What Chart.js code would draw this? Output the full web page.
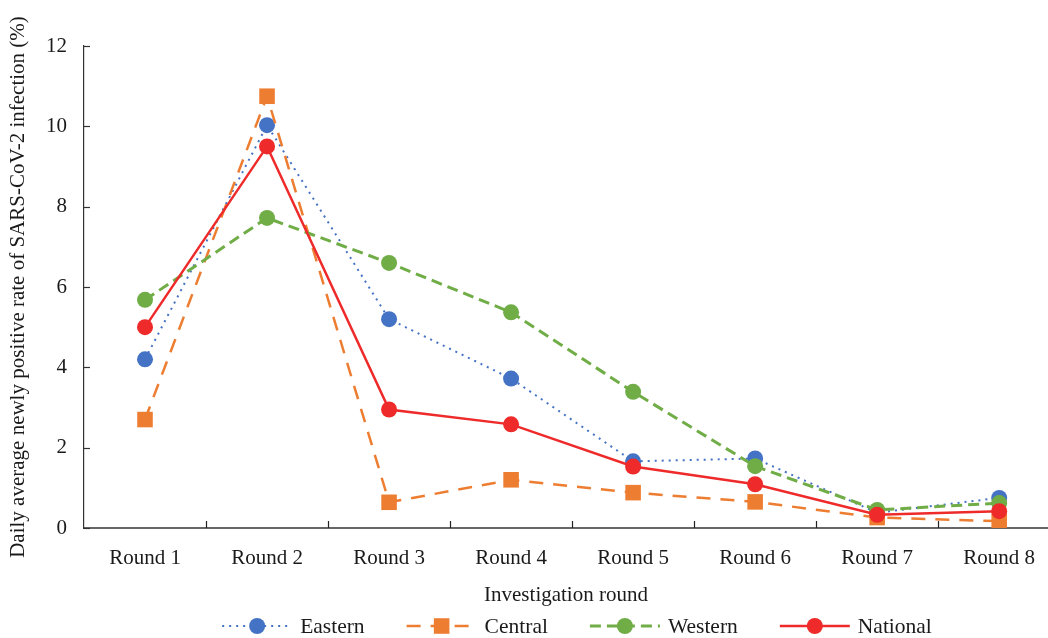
<!DOCTYPE html>
<html>
<head>
<meta charset="utf-8">
<script src="https://cdn.jsdelivr.net/npm/chart.js@4/dist/chart.umd.min.js"></script>
<style>
  html, body { margin: 0; padding: 0; background: #fff; overflow: hidden; }
  #wrap { width: 1048px; height: 638px; position: relative; overflow: hidden; }
  canvas { display: block; }
</style>
</head>
<body>
<div id="wrap"><canvas id="c" width="1048" height="638"></canvas></div>
<script>
const categories = ['Round 1', 'Round 2', 'Round 3', 'Round 4', 'Round 5', 'Round 6', 'Round 7', 'Round 8'];
const eastern  = [4.20, 10.03, 5.20, 3.72, 1.66, 1.73, 0.38, 0.75];
const central  = [2.70, 10.75, 0.64, 1.20, 0.88, 0.65, 0.26, 0.17];
const western  = [5.68, 7.72, 6.60, 5.37, 3.39, 1.54, 0.45, 0.62];
const national = [5.00, 9.50, 2.95, 2.58, 1.53, 1.09, 0.33, 0.42];
const yTicks = [0, 2, 4, 6, 8, 10, 12];
const xTitle = 'Investigation round';
const yTitle = 'Daily average newly positive rate of SARS-CoV-2 infection (%)';

const FONT = '"Liberation Serif", "Times New Roman", serif';
const TXT = '#1a1a1a';

function pts(arr) { return arr.map((v, i) => ({ x: i + 1, y: v })); }

const datasets = [
  { label: 'Eastern', data: pts(eastern), borderColor: '#4472C4', backgroundColor: '#4472C4',
    borderWidth: 2, borderDash: [2, 5], pointStyle: 'circle', pointRadius: 8, order: 4 },
  { label: 'Central', data: pts(central), borderColor: '#ED7D31', backgroundColor: '#ED7D31',
    borderWidth: 2.5, borderDash: [14, 10], pointStyle: 'rect', pointRadius: 11, order: 3 },
  { label: 'Western', data: pts(western), borderColor: '#70AD47', backgroundColor: '#70AD47',
    borderWidth: 3, borderDash: [11, 6], pointStyle: 'circle', pointRadius: 8, order: 2 },
  { label: 'National', data: pts(national), borderColor: '#EE2A2A', backgroundColor: '#EE2A2A',
    borderWidth: 2.5, borderDash: [], pointStyle: 'circle', pointRadius: 8, order: 1 }
];
datasets.forEach(d => { d.pointBorderWidth = 0; d.pointHoverRadius = d.pointRadius; d.tension = 0; d.fill = false; });

const insideTicks = {
  id: 'insideTicks',
  afterDraw(chart) {
    const ctx = chart.ctx, xs = chart.scales.x, ys = chart.scales.y, a = chart.chartArea;
    ctx.save();
    ctx.strokeStyle = '#333';
    ctx.lineWidth = 1.2;
    yTicks.forEach(v => {
      const y = Math.round(ys.getPixelForValue(v)) + 0.5;
      ctx.beginPath(); ctx.moveTo(a.left, y); ctx.lineTo(a.left + 6, y); ctx.stroke();
    });
    ctx.strokeStyle = '#222';
    for (let i = 1; i < categories.length; i++) {
      const x = Math.round(xs.getPixelForValue(i + 0.5)) + 0.5;
      ctx.beginPath(); ctx.moveTo(x, a.bottom); ctx.lineTo(x, a.bottom - 7); ctx.stroke();
    }
    ctx.restore();
  }
};

const customLegend = {
  id: 'customLegend',
  afterDraw(chart) {
    const ctx = chart.ctx;
    ctx.save();
    ctx.font = '21.5px ' + FONT;
    ctx.textBaseline = 'middle';
    const lineLen = 70, gapText = 8, gapItem = 42;
    const items = chart.data.datasets.map(d => ({ d, w: ctx.measureText(d.label).width }));
    const total = items.reduce((s, it) => s + lineLen + gapText + it.w, 0) + gapItem * (items.length - 1);
    let x = 577 - total / 2;
    const y = 626;
    items.forEach(it => {
      const d = it.d;
      ctx.strokeStyle = d.borderColor;
      ctx.lineWidth = d.borderWidth;
      ctx.setLineDash(d.borderDash || []);
      ctx.beginPath(); ctx.moveTo(x, y); ctx.lineTo(x + lineLen, y); ctx.stroke();
      ctx.setLineDash([]);
      ctx.fillStyle = d.backgroundColor;
      const cx = x + lineLen / 2;
      if (d.pointStyle === 'rect') {
        const s = d.pointRadius * Math.SQRT1_2;
        ctx.fillRect(cx - s, y - s, 2 * s, 2 * s);
      } else {
        ctx.beginPath(); ctx.arc(cx, y, d.pointRadius, 0, Math.PI * 2); ctx.fill();
      }
      ctx.fillStyle = TXT;
      ctx.textAlign = 'left';
      ctx.fillText(d.label, x + lineLen + gapText, y + 1);
      x += lineLen + gapText + it.w + gapItem;
    });
    ctx.restore();
  }
};

new Chart(document.getElementById('c'), {
  type: 'line',
  data: { datasets },
  plugins: [insideTicks, customLegend],
  options: {
    responsive: false,
    animation: false,
    events: [],
    layout: { autoPadding: false, padding: { top: 46, right: 0, bottom: 26, left: 0 } },
    plugins: { legend: { display: false }, tooltip: { enabled: false } },
    scales: {
      x: {
        type: 'linear',
        min: 0.5,
        max: 8.4,
        afterBuildTicks(scale) { scale.ticks = categories.map((c, i) => ({ value: i + 1 })); },
        afterFit(scale) { scale.height = 84; },
        ticks: {
          autoSkip: false, maxRotation: 0, padding: 0,
          color: TXT, font: { family: FONT, size: 21 },
          callback: (v) => categories[Math.round(v) - 1]
        },
        grid: { display: true, drawOnChartArea: false, drawTicks: true, tickLength: 18, tickColor: 'rgba(0,0,0,0)' },
        border: { display: true, color: '#666', width: 2 },
        title: { display: true, text: xTitle, color: TXT, font: { family: FONT, size: 21 }, padding: { top: 0, bottom: 4 } }
      },
      y: {
        min: 0, max: 12,
        afterBuildTicks(scale) { scale.ticks = yTicks.map(v => ({ value: v })); },
        afterFit(scale) { scale.width = 84; },
        ticks: { padding: 17, color: TXT, font: { family: FONT, size: 21 } },
        grid: { display: true, drawOnChartArea: false, drawTicks: false },
        border: { display: true, color: '#333', width: 1.2 },
        title: { display: true, text: yTitle, color: TXT, font: { family: FONT, size: 21 }, padding: { top: 6, bottom: 6 } }
      }
    }
  }
});
</script>
</body>
</html>
